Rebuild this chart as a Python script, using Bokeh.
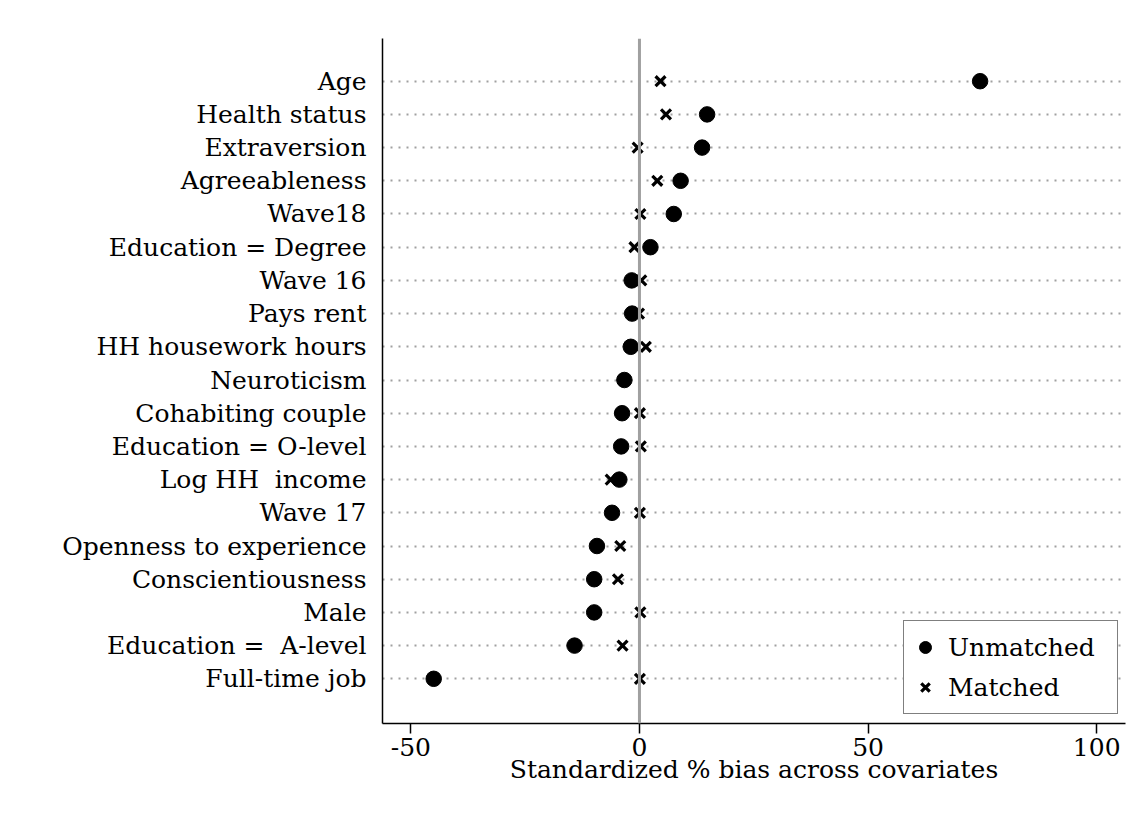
from bokeh.plotting import figure
from bokeh.models import Span, FixedTicker, Legend, LegendItem, Range1d
from bokeh.embed import file_html
from bokeh.resources import INLINE

covariates = ["Age", "Health status", "Extraversion", "Agreeableness", "Wave18",
              "Education = Degree", "Wave 16", "Pays rent", "HH housework hours",
              "Neuroticism", "Cohabiting couple", "Education = O-level",
              "Log HH \u00a0income", "Wave 17", "Openness to experience",
              "Conscientiousness", "Male", "Education = \u00a0A-level", "Full-time job"]
unmatched = [74.5, 14.8, 13.7, 9.0, 7.5, 2.4, -1.7, -1.6, -1.9, -3.3, -3.8, -4.0,
             -4.4, -6.0, -9.3, -9.9, -9.9, -14.2, -45.0]
matched = [4.6, 5.8, -0.4, 3.9, 0.2, -1.1, 0.4, -0.1, 1.4, -3.5, 0.1, 0.3,
           -6.3, 0.1, -4.2, -4.7, 0.2, -3.7, 0.1]
x_ticks = [-50, 0, 50, 100]
x_tick_labels = ["-50", "0", "50", "100"]
legend_labels = ["Unmatched\u00a0\u00a0", "Matched"]

n = len(covariates)
ypos = [n - 1 - i for i in range(n)]

FONT = "DejaVu Serif"
FS = "25px"

p = figure(width=1129, height=834, output_backend="svg", toolbar_location=None,
           x_range=Range1d(-56.2, 106.3), y_range=Range1d(-1.346, n - 1 + 1.286),
           min_border_left=382, min_border_right=4, min_border_top=38,
           min_border_bottom=111, background_fill_color="white",
           border_fill_color="white", outline_line_color=None)

# y axis
p.yaxis.ticker = FixedTicker(ticks=ypos)
p.yaxis.major_label_overrides = {y: c for y, c in zip(ypos, covariates)}
p.yaxis.major_tick_line_color = None
p.yaxis.minor_tick_line_color = None
p.yaxis.major_label_standoff = 10
p.yaxis.major_label_text_font = FONT
p.yaxis.major_label_text_font_size = FS
p.yaxis.major_label_text_color = "black"
p.yaxis.axis_line_color = "black"
p.yaxis.axis_line_width = 1.5

# x axis
p.xaxis.ticker = FixedTicker(ticks=x_ticks)
p.xaxis.major_label_overrides = {t: l for t, l in zip(x_ticks, x_tick_labels)}
p.xaxis.minor_tick_line_color = None
p.xaxis.major_tick_out = 10
p.xaxis.major_tick_in = 0
p.xaxis.major_tick_line_width = 1.5
p.xaxis.axis_line_width = 1.5
p.xaxis.major_label_text_font = FONT
p.xaxis.major_label_text_font_size = FS
p.xaxis.major_label_text_color = "black"
p.xaxis.major_label_standoff = 4
p.xaxis.axis_label = "Standardized % bias across covariates"
p.xaxis.axis_label_text_font = FONT
p.xaxis.axis_label_text_font_size = FS
p.xaxis.axis_label_text_color = "black"
p.xaxis.axis_label_text_font_style = "normal"
p.xaxis.axis_label_standoff = -4

# grids
p.xgrid.grid_line_color = None
p.ygrid.ticker = FixedTicker(ticks=ypos)
p.ygrid.grid_line_color = "#a0a0a0"
p.ygrid.grid_line_dash = "2 6"
p.ygrid.grid_line_width = 2

p.add_layout(Span(location=0, dimension="height", line_color="#a0a0a0", line_width=3))

r_m = p.scatter(matched, ypos, marker="x", size=14, line_width=3.2, line_color="black")
r_u = p.scatter(unmatched, ypos, marker="circle", size=15.5, fill_color="black",
                line_color="black")

legend = Legend(items=[LegendItem(label=legend_labels[0], renderers=[r_u]),
                       LegendItem(label=legend_labels[1], renderers=[r_m])],
                location=(521, 9), border_line_color="black", border_line_width=1.5,
                label_text_font=FONT, label_text_font_size=FS,
                label_text_color="black",
                background_fill_alpha=1.0, margin=0, padding=6, spacing=0,
                glyph_width=30, glyph_height=40, label_standoff=8,
                label_height=40)
p.add_layout(legend, "center")

open("out.html", "w").write(file_html(p, INLINE))
